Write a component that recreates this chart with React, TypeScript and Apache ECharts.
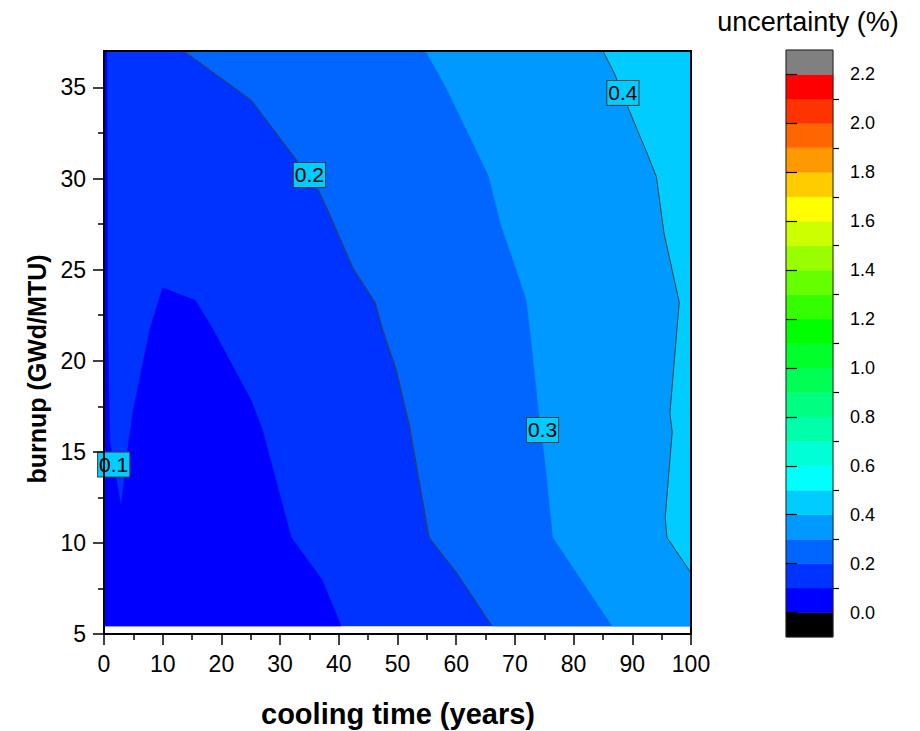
import React, { useEffect, useRef } from "react";
import * as echarts from "echarts";

// ---- data ----
const xTicks = [0, 10, 20, 30, 40, 50, 60, 70, 80, 90, 100];
const yTickLabels = [5, 10, 15, 20, 25, 30, 35];
const yMinorTicks = [7.5, 12.5, 17.5, 22.5, 27.5, 32.5];
const dataXRange = [0, 100];
const dataYRange = [5.44, 37];

// contour lines (cooling time, burnup)
const contour01 = [[0.5, 37], [0.65, 21.7], [1.0, 15.6], [2.9, 12.0], [4.2, 15.5], [4.9, 17.1], [7.8, 21.7], [10.0, 24.0], [15.6, 23.3], [18.6, 21.7], [25.1, 17.8], [27.0, 16.2], [31.9, 10.3], [37.1, 8.0], [40.4, 5.44]];
const contour02 = [[13.5, 37], [15.3, 36.6], [23.4, 34.7], [25.1, 34.3], [31.9, 31.4], [35.0, 30.1], [36.5, 29.4], [38.5, 28.0], [42.4, 25.1], [46.2, 23.2], [47.5, 21.7], [49.8, 19.5], [52.0, 16.5], [55.4, 10.3], [60.0, 8.4], [66.1, 5.44]];
const contour03 = [[54.8, 37], [58.3, 35.0], [61.9, 32.6], [65.6, 30.1], [67.7, 27.4], [70.7, 24.6], [72.0, 23.3], [72.6, 21.7], [74.2, 16.9], [75.2, 14.4], [76.5, 10.3], [81.7, 7.8], [86.6, 5.44]];
const contour04 = [[85.0, 37], [86.9, 35.8], [89.9, 33.4], [92.5, 31.4], [94.1, 30.1], [95.4, 27.0], [98.0, 23.2], [97.6, 21.7], [96.4, 17.1], [96.8, 16.1], [95.6, 11.4], [95.9, 10.3], [100, 8.35]];

const regionColors = ["#0033FF", "#0000FF", "#0066FF", "#0099FF", "#00CCFF"];

const contourLabels = [
  { text: "0.1", x: 1.65, y: 14.3 },
  { text: "0.2", x: 35.0, y: 30.2 },
  { text: "0.3", x: 74.7, y: 16.2 },
  { text: "0.4", x: 88.4, y: 34.7 },
];

// colour bar
const cbEdges = [-0.1, 0.0, 0.1, 0.2, 0.3, 0.4, 0.5, 0.6, 0.7, 0.8, 0.9, 1.0, 1.1, 1.2, 1.3, 1.4, 1.5, 1.6, 1.7, 1.8, 1.9, 2.0, 2.1, 2.2, 2.3];
const cbColors = ["#000000", "#0000FF", "#0033FF", "#0066FF", "#0099FF", "#00CCFF", "#00FFFF", "#00FFD4", "#00FFAA", "#00FF80", "#00FF55", "#00FF2B", "#00FF00", "#33FF00", "#66FF00", "#99FF00", "#CCFF00", "#FFFF00", "#FFCC00", "#FF9900", "#FF6600", "#FF3300", "#FF0000", "#808080"];
const cbMajorTicks = [0.0, 0.2, 0.4, 0.6, 0.8, 1.0, 1.2, 1.4, 1.6, 1.8, 2.0, 2.2];
const cbMinorTicks = [0.1, 0.3, 0.5, 0.7, 0.9, 1.1, 1.3, 1.5, 1.7, 1.9, 2.1];

const FONT = "'Liberation Sans', Arial, sans-serif";

export default function App() {
  const ref = useRef<HTMLDivElement>(null);
  useEffect(() => {
    if (!ref.current) return;
    const chart = echarts.init(ref.current, null, { renderer: "svg" });
    const [x0, x1] = dataXRange;
    const [y0, y1] = dataYRange;
    const option: any = {
      animation: false,
      backgroundColor: "#ffffff",
      grid: [
        { left: 104, right: 229, top: 51, bottom: 97, show: true, borderColor: "#000", borderWidth: 2, z: 5 },
        { left: 786, right: 87, top: 50, bottom: 94, show: true, borderColor: "#222", borderWidth: 1, z: 5 },
      ],
      xAxis: [
        {
          type: "value", gridIndex: 0, min: xTicks[0], max: xTicks[xTicks.length - 1], interval: 10, position: "bottom", z: 10,
          axisLine: { show: true, lineStyle: { color: "#000", width: 2 } },
          axisTick: { show: true, length: 11, lineStyle: { color: "#000", width: 1.5 } },
          minorTick: { show: true, splitNumber: 2, length: 6, lineStyle: { color: "#000", width: 1.5 } },
          axisLabel: { color: "#000", fontSize: 23, fontFamily: FONT, margin: 18 },
          splitLine: { show: false },
        },
        { type: "value", gridIndex: 1, min: 0, max: 1, show: false },
      ],
      yAxis: [
        {
          type: "value", gridIndex: 0, min: 5, max: 37, position: "left", z: 10,
          axisLine: { show: true, lineStyle: { color: "#000", width: 2 } },
          axisTick: { show: true, length: 11, customValues: yTickLabels, lineStyle: { color: "#000", width: 1.5 } },
          axisLabel: { color: "#000", fontSize: 23, fontFamily: FONT, margin: 18, customValues: yTickLabels },
          splitLine: { show: false },
        },
        {
          type: "value", gridIndex: 0, min: 5, max: 37, position: "left", z: 10,
          axisLine: { show: false },
          axisTick: { show: true, length: 6, customValues: yMinorTicks, lineStyle: { color: "#000", width: 1.5 } },
          axisLabel: { show: false },
          splitLine: { show: false },
        },
        {
          type: "value", gridIndex: 1, min: cbEdges[0], max: cbEdges[cbEdges.length - 1], position: "right", z: 10,
          axisLine: { show: false },
          axisTick: { show: true, length: 11, customValues: cbMajorTicks, lineStyle: { color: "#000", width: 1.2 } },
          axisLabel: { color: "#000", fontSize: 18, fontFamily: FONT, margin: 17, customValues: cbMajorTicks, formatter: (v: number) => v.toFixed(1) },
          splitLine: { show: false },
        },
        {
          type: "value", gridIndex: 1, min: cbEdges[0], max: cbEdges[cbEdges.length - 1], position: "right", z: 10,
          axisLine: { show: false },
          axisTick: { show: true, length: 6, customValues: cbMinorTicks, lineStyle: { color: "#000", width: 1.2 } },
          axisLabel: { show: false },
          splitLine: { show: false },
        },
      ],
      series: [
        {
          type: "custom", xAxisIndex: 0, yAxisIndex: 0, z: 1, clip: true,
          data: [[x0, y0]],
          renderItem: (_p: any, api: any) => {
            const polys = [
              [[x0, y0], [x1, y0], [x1, y1], [x0, y1]],
              [[x0, y1], ...contour01, [x0, y0]],
              [...contour02, [x1, y0], [x1, y1]],
              [...contour03, [x1, y0], [x1, y1]],
              [...contour04, [x1, y1]],
            ];
            return {
              type: "group",
              children: polys.map((poly, i) => ({
                type: "polygon",
                shape: { points: poly.map((p) => api.coord(p)) },
                style: { fill: regionColors[i], stroke: regionColors[i], lineWidth: 0.5 },
              })),
            };
          },
        },
        {
          type: "line", xAxisIndex: 0, yAxisIndex: 0, z: 2, data: contour02, symbol: "none",
          lineStyle: { color: "#3c3c3c", width: 1 }, silent: true,
        },
        {
          type: "line", xAxisIndex: 0, yAxisIndex: 0, z: 2, data: contour04, symbol: "none",
          lineStyle: { color: "#3c3c3c", width: 1 }, silent: true,
        },
        {
          type: "scatter", xAxisIndex: 0, yAxisIndex: 0, z: 3, symbolSize: 0, clip: false,
          itemStyle: { opacity: 1 },
          data: contourLabels.map((l) => ({ value: [l.x, l.y], name: l.text })),
          label: {
            show: true, position: "inside", formatter: (p: any) => p.name,
            color: "#000", fontSize: 21, fontFamily: FONT, opacity: 1,
            backgroundColor: "#00CCFF", borderColor: "#3c3c3c", borderWidth: 1, padding: [2, 1, 1, 1],
          },
        },
        {
          type: "custom", xAxisIndex: 1, yAxisIndex: 2, z: 1,
          data: cbColors.map((_c, i) => [0, cbEdges[i]]),
          renderItem: (p: any, api: any) => {
            const i = p.dataIndex;
            const a = api.coord([0, cbEdges[i + 1]]);
            const b = api.coord([1, cbEdges[i]]);
            return {
              type: "rect",
              shape: { x: a[0], y: a[1], width: b[0] - a[0], height: b[1] - a[1] },
              style: { fill: cbColors[i], stroke: cbColors[i], lineWidth: 0.5 },
            };
          },
        },
      ],
      graphic: [
        {
          type: "text", x: 808, y: 22,
          style: { text: "uncertainty (%)", fill: "#000", font: `27px ${FONT}`, textAlign: "center", textVerticalAlign: "middle" },
        },
        {
          type: "text", x: 398, y: 714,
          style: { text: "cooling time (years)", fill: "#000", font: `bold 29px ${FONT}`, textAlign: "center", textVerticalAlign: "middle" },
        },
        {
          type: "text", x: 37, y: 369, rotation: Math.PI / 2,
          style: { text: "burnup (GWd/MTU)", fill: "#000", font: `bold 25px ${FONT}`, textAlign: "center", textVerticalAlign: "middle" },
        },
      ],
    };
    chart.setOption(option);
    return () => chart.dispose();
  }, []);
  return <div ref={ref} style={{ position: "fixed", left: 0, top: 0, width: 920, height: 731, background: "#fff" }} />;
}
